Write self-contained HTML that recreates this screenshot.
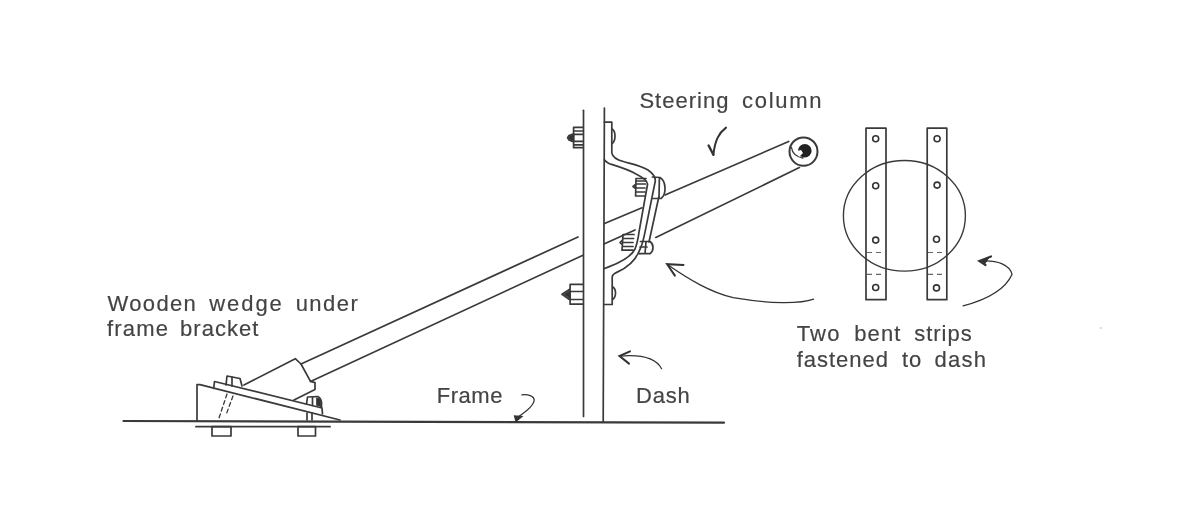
<!DOCTYPE html>
<html><head><meta charset="utf-8">
<style>
html,body{margin:0;padding:0;background:#fff;}
body{width:1195px;height:516px;overflow:hidden;position:relative;}
svg{position:absolute;left:0;top:0;filter:blur(0.5px);}
text{font-family:"Liberation Sans",sans-serif;font-size:22px;fill:#444;stroke:#444;stroke-width:0.2px;}
</style></head><body>
<svg width="1195" height="516" viewBox="0 0 1195 516">
<g fill="none" stroke="#3a3a3a" stroke-width="1.7" stroke-linecap="round" stroke-linejoin="round">
<!-- ground -->
<line x1="123.5" y1="421" x2="724" y2="422.7" stroke-width="2.2"/>
<!-- lower plate under frame -->
<line x1="196" y1="426.7" x2="330" y2="426.7" stroke-width="1.8"/>
<rect x="212" y="426.7" width="19" height="9.3"/>
<rect x="298" y="426.7" width="17.5" height="9.3"/>
<!-- wedge -->
<polyline points="197,421 197,384.6 200,384.6 340,420"/>
<!-- bracket plate on wedge -->
<polyline points="213.7,388.5 214.5,381.5 322,408 322.5,414"/>
<!-- nuts on plate -->
<path d="M226,385 L227,376 L240,378.5 L242,386"/>
<line x1="232" y1="377" x2="232" y2="386"/>
<path d="M306.5,404 L307.5,397 L318,396.5 C321,398 322,403 321.5,407.5"/>
<line x1="312.5" y1="397" x2="312.5" y2="405.5"/>
<path d="M317,398 L320.5,399 L321,406.5 L317,405.5 Z" fill="#333" stroke-width="1"/>
<!-- bolt shanks dashed -->
<path d="M227,394 L219,418" stroke-dasharray="4,3" stroke-width="1.3"/>
<path d="M233,396 L226,415" stroke-dasharray="4,3" stroke-width="1.3"/>
<line x1="307" y1="413" x2="307" y2="420"/>
<line x1="312" y1="413" x2="312" y2="420"/>
<!-- socket -->
<polyline points="244,385 295.3,358.7 301,364 310.5,381.4 315,382.6 315,389.5 294,400"/>
<!-- tube left part -->
<line x1="301" y1="364" x2="578" y2="237"/>
<line x1="310.5" y1="381.4" x2="583" y2="255.3"/>
<!-- tube between dash and bracket -->
<line x1="604.5" y1="223.5" x2="642" y2="207.8"/>
<line x1="604.5" y1="243.8" x2="635" y2="229.9"/>
<!-- tube right part -->
<line x1="665" y1="195" x2="788.7" y2="141.5"/>
<line x1="655.8" y1="237.4" x2="799.4" y2="167.6"/>
<!-- end cap -->
<ellipse cx="803.5" cy="151.6" rx="14" ry="14.2" stroke-width="2"/>
<path d="M791.5,147.5 Q792.5,156 803,158" stroke-width="1.3"/>
<!-- dash -->
<line x1="583.5" y1="110.3" x2="583.5" y2="416.5"/>
<line x1="604.4" y1="108" x2="603.2" y2="422"/>
<!-- bolts on left of dash -->
<path d="M583.3,127.3 L573.6,127.3 L573.6,147.7 L583.3,147.7 M573.6,131 L583.3,131 M573.6,134.3 L583.3,134.3 M573.6,141.3 L583.3,141.3 M573.6,144.8 L583.3,144.8 M573.6,133.7 L569,135.5 L567.6,137.8 L569,140 L573.6,141.9"/>
<path d="M573.6,134.5 L569.5,136 L568.5,137.8 L569.5,139.5 L573.6,141 Z" fill="#333" stroke-width="0.8"/>
<path d="M583.3,284.4 L570.1,284.4 L570.1,304.2 L583.3,304.2 M570.1,291.5 L583.3,291.5 M570.1,299.5 L583.3,299.5 M570.1,289 L562,294.3 L570.1,300"/>
<path d="M570.1,290.5 L563.5,294.3 L570.1,298.5 Z" fill="#333" stroke-width="0.8"/>
<!-- bracket top -->
<path d="M604.4,122.1 L611.8,122.1 L611.8,152.8 C612.5,157 616,159.5 623.3,161.5 C632,164 642,166 648,170 C653,173.5 655.5,177 655.3,181 L645,232.2 C643.5,240 642,246 639,251.5 C635,261 627,268 616.3,272.6 C613.5,274 612.2,275.5 612.2,277 L612.2,304.5 L604.4,304.5"/>
<path d="M604.4,159.8 C607,162.5 609,164 611.6,164.4 C620,167 630,170.5 636,174 C641,176.5 647,179.5 647.6,184 L639,232.2 C638,240 637,244 635,249 C631,257 622,262 608.1,267.1 L604.4,268.5"/>
<path d="M612,129 C616,131 616,141 612,143.6"/>
<path d="M612.6,286.7 C616.5,289 616.5,297 612.6,299.5"/>
<line x1="658.8" y1="197" x2="649" y2="242"/>
<!-- nuts on strap -->
<path d="M646,178.5 L636,178.5 L635.6,196 L645,196 M636,181 L645.5,181 M636,184 L645.5,184 M636,188 L645,188 M636,192 L645,192 M635.6,184.5 L633,186.5 L635.6,188.5"/>
<path d="M652.4,177 L660,177.5 C666,181 667,194 661,198.5 L653,198.5 M659.4,178 L659,198"/>
<path d="M634,234.5 L623,234.5 L622,250.2 L633,250.2 M623,238.5 L633.5,238.5 M622.5,242.5 L633,242.5 M622.5,246.5 L633,246.5 M622.5,240 L620,242.5 L622.5,245"/>
<path d="M640.5,241.5 L650,241.5 C654,244 654,251 650,253.7 L639.2,253.7 M640,247 L647,247 M646,241.5 L645,253.7"/>
<!-- strips diagram -->
<rect x="866" y="128.2" width="20" height="171.5"/>
<rect x="927.2" y="128.2" width="19.6" height="171.5"/>
<ellipse cx="904.4" cy="215.8" rx="61" ry="55.3" stroke-width="1.4"/>
</g>
<g fill="#fff" stroke="#333" stroke-width="1.6">
<circle cx="875.7" cy="138.8" r="3"/>
<circle cx="875.7" cy="185.7" r="3"/>
<circle cx="875.7" cy="240.1" r="3"/>
<circle cx="875.7" cy="287.5" r="3"/>
<circle cx="937.1" cy="138.8" r="3"/>
<circle cx="937.1" cy="185.1" r="3"/>
<circle cx="936.5" cy="239.3" r="3"/>
<circle cx="936.5" cy="287.9" r="3"/>
</g>
<g stroke="#666" stroke-width="1.2" stroke-dasharray="5,4">
<line x1="867" y1="252.5" x2="885" y2="252.5"/>
<line x1="867" y1="274.3" x2="885" y2="274.3"/>
<line x1="928" y1="252.5" x2="946" y2="252.5"/>
<line x1="928" y1="274.3" x2="946" y2="274.3"/>
</g>
<circle cx="804.8" cy="150.8" r="6.8" fill="#222"/>
<path d="M797,151 L801,150 L803,153 L799,157 Z" fill="#fff"/>
<!-- arrows -->
<g fill="none" stroke="#333" stroke-width="1.5" stroke-linecap="round">
<path d="M813.6,299.1 C800,304 770,304 733.2,297.7 C710,292 690,280 668,265" stroke-width="1.3"/>
<path d="M683.5,264.9 L667.1,264.2 L674.9,275.6" stroke-width="2"/>
<path d="M963.1,305.8 C985,300 1005,290 1012,274.4 C1010,265 998,260 981,261" stroke-width="1.3"/>
<path d="M991,256.5 L979.4,261 L985.5,265" stroke-width="2.2"/><path d="M980,261 L989,257.5 L985,263.5 Z" fill="#333" stroke-width="1"/>
<path d="M726,127.6 C719,133 715,140 713.4,154.7" stroke-width="2"/>
<path d="M708.6,145.5 L713.4,154.7" stroke-width="2.4"/>
<path d="M661.6,368.7 C657,360 645,354 620,356.1" stroke-width="1.2"/>
<path d="M630,351.4 L619.5,356.1 L629,363.6" stroke-width="2"/>
<path d="M521.9,394.8 C528,394 534,396 534.2,400 C534,405 527,411 518,417" stroke-width="1.3"/>
<path d="M514.5,416 L516,421.5 L522,416.5 Z" fill="#333" stroke-width="1.2"/>
</g>
<circle cx="1100.7" cy="328" r="1" fill="#ccc"/>
<!-- text -->
<text x="639.4" y="108.3" letter-spacing="1.03">Steering</text>
<text x="742" y="108.3" letter-spacing="1.72">column</text>
<text x="107.5" y="311.3" letter-spacing="1.36">Wooden</text>
<text x="209.2" y="311.3" letter-spacing="1.95">wedge</text>
<text x="295.7" y="311.3" letter-spacing="1.45">under</text>
<text x="107.1" y="336.1" letter-spacing="1.15">frame</text>
<text x="180.1" y="336.1" letter-spacing="1.0">bracket</text>
<text x="796.7" y="341.4" letter-spacing="1.2">Two</text>
<text x="854.3" y="341.4" letter-spacing="1.07">bent</text>
<text x="914.3" y="341.4" letter-spacing="0.96">strips</text>
<text x="796.7" y="366.9" letter-spacing="0.97">fastened</text>
<text x="902.1" y="366.9" letter-spacing="0.8">to</text>
<text x="934.6" y="366.9" letter-spacing="1.2">dash</text>
<text x="436.7" y="403.2" letter-spacing="0.55">Frame</text>
<text x="636" y="403.3" letter-spacing="0.8">Dash</text>
</svg>
</body></html>
